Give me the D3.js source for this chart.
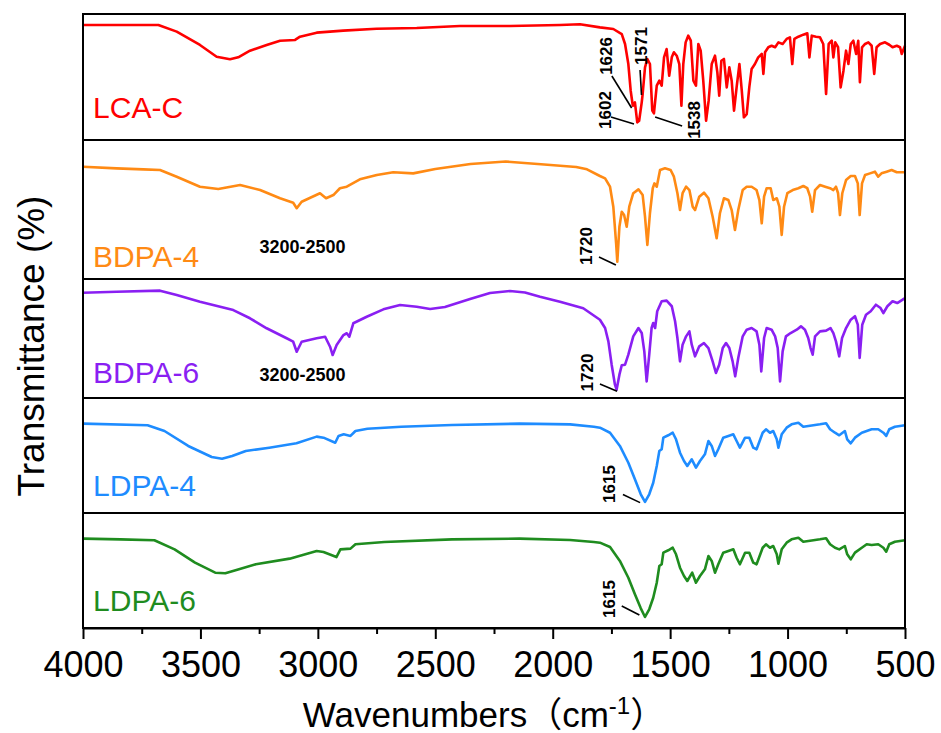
<!DOCTYPE html>
<html>
<head>
<meta charset="utf-8">
<script src="https://cdn.jsdelivr.net/npm/d3@7"></script>
<style>
body { margin: 0; background: #fff; }
</style>
</head>
<body>
<script>
// FTIR spectra, [wavenumber, transmittance (a.u., 0-100 inside each panel)]
var lcaC = [[4000,91.3],[3679,91.3],[3601,86.0],[3502,75.4],[3431,66.1],[3374,64.1],[3339,65.6],[3289,70.9],[3218,75.4],[3161,78.8],[3097,79.4],[3076,82.0],[3005,85.2],[2892,86.8],[2750,88.3],[2579,88.9],[2395,90.5],[2182,90.5],[1969,91.3],[1884,91.9],[1799,89.4],[1742,88.1],[1706,84.1],[1692,76.2],[1678,60.3],[1668,39.1],[1659,27.2],[1650,29.9],[1640,14.0],[1632,15.3],[1621,29.9],[1617,36.5],[1607,57.7],[1597,64.3],[1586,60.3],[1576,23.3],[1569,21.2],[1557,43.1],[1546,47.1],[1536,43.1],[1526,65.6],[1515,72.2],[1504,51.0],[1493,65.6],[1484,69.6],[1472,66.9],[1461,60.3],[1452,27.2],[1444,60.3],[1434,77.5],[1423,82.8],[1412,78.8],[1401,47.1],[1390,43.1],[1380,76.2],[1370,70.9],[1359,47.1],[1347,15.3],[1336,31.2],[1323,60.3],[1309,66.9],[1299,53.7],[1291,35.2],[1282,62.9],[1271,64.3],[1259,41.8],[1248,57.7],[1238,47.1],[1228,23.3],[1217,41.8],[1205,60.3],[1195,39.1],[1186,18.0],[1174,20.6],[1163,41.8],[1153,56.4],[1139,60.3],[1125,65.6],[1110,68.3],[1103,52.4],[1096,69.6],[1082,73.6],[1068,74.8],[1053,73.6],[1039,77.5],[1021,76.2],[1004,80.2],[990,81.5],[980,60.3],[971,80.2],[954,82.0],[933,83.6],[916,84.7],[907,65.6],[897,82.8],[879,82.0],[862,81.5],[848,76.2],[836,36.5],[825,76.2],[812,78.8],[805,65.6],[797,77.5],[785,73.6],[774,41.8],[762,55.0],[751,70.9],[741,60.3],[731,76.2],[720,78.8],[708,68.3],[699,78.8],[692,45.8],[683,73.6],[670,76.2],[656,77.5],[642,74.8],[631,52.4],[621,73.6],[606,76.2],[585,77.5],[567,75.6],[553,73.6],[535,74.8],[521,73.6],[514,68.3],[500,74.8]];

var bdpa4 = [[4000,80.8],[3857,79.6],[3743,78.9],[3672,78.4],[3601,73.6],[3502,66.4],[3424,64.7],[3331,67.6],[3246,64.0],[3161,58.1],[3105,54.9],[3090,50.9],[3069,55.6],[2991,61.7],[2965,58.1],[2934,60.4],[2906,65.3],[2877,66.4],[2821,71.7],[2749,74.8],[2679,76.8],[2594,76.0],[2500,79.1],[2350,82.7],[2200,84.5],[2050,82.5],[1900,80.6],[1854,78.9],[1799,74.1],[1777,72.4],[1756,66.4],[1742,52.0],[1730,25.7],[1725,12.4],[1716,37.6],[1706,48.4],[1696,46.0],[1685,37.6],[1674,52.0],[1657,61.7],[1635,64.5],[1617,60.4],[1607,44.8],[1597,24.5],[1586,47.3],[1574,65.3],[1567,68.8],[1557,66.4],[1543,78.4],[1522,79.6],[1498,78.4],[1484,73.6],[1469,61.7],[1458,49.6],[1447,61.7],[1432,66.4],[1418,64.0],[1404,52.0],[1394,49.6],[1376,59.2],[1356,62.1],[1337,58.1],[1319,44.8],[1302,29.3],[1288,47.3],[1271,58.1],[1252,56.8],[1238,49.6],[1224,35.3],[1210,49.6],[1191,64.0],[1174,66.4],[1153,66.4],[1132,64.0],[1120,56.8],[1110,40.1],[1100,59.2],[1089,65.3],[1072,65.3],[1061,56.8],[1046,58.1],[1035,52.0],[1025,31.7],[1015,52.0],[1001,61.7],[978,64.0],[954,65.3],[933,66.9],[916,65.3],[904,59.2],[895,48.4],[883,64.0],[862,67.6],[840,66.4],[819,65.3],[805,64.0],[794,66.4],[785,61.7],[777,46.0],[767,61.7],[751,71.2],[731,74.1],[713,74.1],[701,68.8],[693,46.0],[683,68.8],[670,74.8],[649,76.0],[628,77.2],[614,73.6],[600,76.0],[578,77.2],[557,78.4],[535,76.8],[500,76.8]];

var bdpa6 = [[4000,88.5],[3857,89.3],[3672,90.2],[3601,86.6],[3502,80.9],[3360,73.9],[3289,67.0],[3218,58.6],[3133,50.2],[3105,47.3],[3090,38.9],[3069,47.3],[3005,50.2],[2969,51.5],[2948,43.1],[2937,36.1],[2920,44.5],[2891,52.9],[2877,54.4],[2866,51.5],[2849,62.8],[2792,68.3],[2721,74.5],[2650,78.1],[2579,76.7],[2522,74.8],[2459,76.5],[2352,83.2],[2267,88.2],[2182,89.9],[2118,88.7],[2054,85.1],[1969,80.9],[1870,75.4],[1799,65.8],[1777,58.8],[1763,47.6],[1749,28.0],[1735,11.2],[1728,7.0],[1716,19.6],[1706,27.5],[1692,28.0],[1678,36.4],[1657,51.8],[1635,58.8],[1621,54.6],[1610,39.2],[1600,14.0],[1589,36.4],[1579,58.8],[1572,63.0],[1564,58.8],[1555,72.9],[1536,81.3],[1515,81.8],[1493,77.1],[1479,64.5],[1469,50.4],[1458,30.8],[1447,44.8],[1432,51.8],[1418,56.0],[1408,44.8],[1394,35.0],[1376,43.4],[1356,46.2],[1337,42.0],[1319,30.8],[1305,21.0],[1291,28.0],[1276,42.0],[1262,46.2],[1248,42.0],[1234,30.8],[1223,18.2],[1210,33.6],[1191,51.8],[1174,57.4],[1153,58.8],[1132,56.0],[1120,44.8],[1112,22.4],[1100,50.4],[1089,58.8],[1068,57.4],[1053,51.8],[1042,42.0],[1032,14.0],[1021,39.2],[1007,51.8],[987,54.6],[961,57.4],[943,60.2],[926,57.4],[912,50.4],[902,42.0],[893,36.4],[883,51.8],[862,56.0],[836,56.6],[817,58.8],[805,54.6],[794,47.6],[780,35.0],[768,50.4],[751,58.8],[731,65.8],[713,68.7],[701,61.6],[693,33.6],[682,61.6],[666,70.0],[646,72.9],[624,78.4],[604,75.6],[592,71.4],[575,77.1],[553,81.3],[533,79.8],[500,84.0]];

var ldpa4 = [[4000,77.7],[3725,76.3],[3653,71.3],[3552,58.3],[3452,48.7],[3408,47.2],[3365,49.6],[3307,53.9],[3207,56.8],[3091,60.6],[3005,66.4],[2976,65.5],[2926,61.1],[2912,67.0],[2890,68.4],[2861,67.0],[2840,71.3],[2789,73.3],[2645,75.0],[2429,76.5],[2141,77.7],[1926,77.1],[1825,75.0],[1799,74.2],[1756,69.8],[1714,58.3],[1678,43.7],[1650,29.3],[1625,16.3],[1607,9.6],[1589,16.3],[1572,26.3],[1557,40.9],[1546,53.9],[1536,55.4],[1529,65.5],[1508,67.6],[1489,69.8],[1475,64.1],[1458,52.4],[1441,45.2],[1427,40.9],[1408,46.7],[1390,39.4],[1373,45.2],[1352,51.0],[1337,62.6],[1323,58.3],[1309,49.6],[1295,55.4],[1274,65.5],[1252,67.0],[1231,68.4],[1217,62.6],[1203,56.8],[1181,65.5],[1163,65.5],[1146,56.8],[1132,55.4],[1106,69.8],[1092,72.8],[1075,69.8],[1061,71.3],[1046,64.1],[1039,56.8],[1025,68.4],[1004,74.2],[983,77.1],[954,78.5],[933,75.0],[890,76.3],[862,77.1],[836,78.0],[819,72.8],[798,69.8],[780,67.6],[756,71.3],[746,64.1],[731,60.6],[713,65.5],[684,69.8],[663,71.3],[642,72.8],[614,72.8],[592,69.8],[580,67.0],[567,72.8],[543,75.0],[500,76.3]];

var ldpa6 = [[4000,77.7],[3840,77.1],[3696,76.3],[3610,68.4],[3523,56.8],[3437,48.1],[3394,47.6],[3336,51.0],[3264,55.4],[3120,60.3],[3005,67.0],[2976,66.1],[2921,61.7],[2904,68.4],[2861,69.0],[2840,72.8],[2717,74.8],[2429,77.1],[2141,77.7],[1926,76.5],[1825,74.8],[1799,74.2],[1756,70.4],[1714,58.3],[1678,43.7],[1650,29.3],[1625,17.1],[1607,9.6],[1589,16.3],[1572,26.3],[1557,39.4],[1546,53.9],[1536,55.4],[1529,65.5],[1508,67.6],[1489,69.8],[1475,64.1],[1458,52.4],[1441,45.2],[1427,40.9],[1406,48.1],[1390,39.4],[1373,45.2],[1352,51.0],[1337,62.6],[1323,58.3],[1309,48.1],[1295,55.4],[1274,65.5],[1252,67.0],[1231,68.4],[1217,61.1],[1203,55.4],[1181,65.5],[1163,65.5],[1146,56.8],[1132,55.4],[1106,69.8],[1092,72.8],[1075,69.8],[1061,71.3],[1046,64.1],[1039,55.9],[1025,68.4],[1004,74.2],[983,77.1],[954,78.5],[933,75.0],[890,76.3],[862,77.1],[836,78.0],[819,72.8],[798,69.8],[780,68.4],[756,71.3],[746,64.1],[731,59.7],[713,65.5],[684,69.8],[663,72.8],[642,72.2],[614,72.8],[592,69.8],[580,66.4],[567,72.8],[543,75.0],[500,76.3]];

var names = ["LCA-C", "BDPA-4", "BDPA-6", "LDPA-4", "LDPA-6"];
var colors = ["#ff0000", "#ff8a14", "#8a1ff2", "#1e8cff", "#1f8c1f"];
var series = [lcaC, bdpa4, bdpa6, ldpa4, ldpa6];
var nameT = [17.5, 8.8, 12.4, 14.8, 14.8];

var xTicks = [4000, 3500, 3000, 2500, 2000, 1500, 1000, 500];
var xMinor = [3750, 3250, 2750, 2250, 1750, 1250, 750];

// peak labels: text position (wn, t) and pointer line, in panel data units
var peaks = [
  {panel: 0, text: "1602", wn: 1752, t: 23.8, line: [[1752, 18.3], [1654, 12.7]]},
  {panel: 0, text: "1626", wn: 1748, t: 66.7, line: [[1748, 50.8], [1664, 25.4]]},
  {panel: 0, text: "1571", wn: 1598, t: 74.6, line: [[1628, 55.6], [1622, 35.7]]},
  {panel: 0, text: "1538", wn: 1373, t: 15.9, line: [[1564, 18.3], [1449, 11.1]]},
  {panel: 1, text: "1720", wn: 1833, t: 23.7, line: [[1803, 15.8], [1731, 10.1]]},
  {panel: 2, text: "1720", wn: 1830, t: 21.4, line: [[1799, 11.8], [1726, 5.6]]},
  {panel: 3, text: "1615", wn: 1733, t: 25.2, line: [[1701, 16.1], [1628, 9.0]]},
  {panel: 4, text: "1615", wn: 1735, t: 25.2, line: [[1706, 19.1], [1631, 11.3]]}
];
var bandLabels = [
  {panel: 1, text: "3200-2500", wn: 3249, t: 18.9},
  {panel: 2, text: "3200-2500", wn: 3249, t: 14.5}
];

var width = 941, height = 733;
var left = 83, right = 905;
var tops = [14, 140, 279, 398, 513];
var bottoms = [140, 279, 398, 513, 628];
var font = "'Liberation Sans', Arial, 'Noto Sans CJK SC', sans-serif";

var svg = d3.select("body").append("svg")
  .attr("width", width)
  .attr("height", height)
  .style("font-family", font);

var x = d3.scaleLinear().domain([4000, 500]).range([left, right]);

var ys = tops.map(function (t, i) {
  return d3.scaleLinear().domain([0, 100]).range([bottoms[i], t]);
});

series.forEach(function (data, i) {
  var line = d3.line()
    .x(function (d) { return x(d[0]); })
    .y(function (d) { return ys[i](d[1]); });

  svg.append("path")
    .datum(data)
    .attr("fill", "none")
    .attr("stroke", colors[i])
    .attr("stroke-width", 2.6)
    .attr("stroke-linejoin", "round")
    .attr("d", line);

  svg.append("text")
    .attr("x", x(3957))
    .attr("y", ys[i](nameT[i]))
    .attr("font-size", "30px")
    .attr("fill", colors[i])
    .text(names[i]);
});

// peak annotations
peaks.forEach(function (p) {
  var y = ys[p.panel];
  svg.append("line")
    .attr("x1", x(p.line[0][0])).attr("y1", y(p.line[0][1]))
    .attr("x2", x(p.line[1][0])).attr("y2", y(p.line[1][1]))
    .attr("stroke", "#000")
    .attr("stroke-width", 1.6);
  svg.append("text")
    .attr("transform", "translate(" + x(p.wn) + "," + y(p.t) + ") rotate(-90)")
    .attr("text-anchor", "middle")
    .attr("font-size", "17px")
    .attr("font-weight", "bold")
    .text(p.text);
});

bandLabels.forEach(function (b) {
  svg.append("text")
    .attr("x", x(b.wn))
    .attr("y", ys[b.panel](b.t))
    .attr("font-size", "18px")
    .attr("font-weight", "bold")
    .text(b.text);
});

// frame + panel dividers
svg.append("rect")
  .attr("x", left).attr("y", tops[0])
  .attr("width", right - left).attr("height", bottoms[4] - tops[0])
  .attr("fill", "none")
  .attr("stroke", "#000")
  .attr("stroke-width", 2);

tops.slice(1).forEach(function (t) {
  svg.append("line")
    .attr("x1", left).attr("x2", right)
    .attr("y1", t).attr("y2", t)
    .attr("stroke", "#000")
    .attr("stroke-width", 2);
});

// x axis
var axisG = svg.append("g")
  .attr("transform", "translate(0," + bottoms[4] + ")")
  .call(d3.axisBottom(x).tickValues(xTicks).tickFormat(d3.format("d"))
    .tickSize(11).tickSizeOuter(0).tickPadding(12));

svg.append("g")
  .attr("transform", "translate(0," + bottoms[4] + ")")
  .call(d3.axisBottom(x).tickValues(xMinor).tickSize(6).tickSizeOuter(0).tickFormat(""))
  .select(".domain").remove();

svg.selectAll(".tick line").attr("stroke-width", 2);
axisG.select(".domain").attr("stroke-width", 2);
axisG.selectAll("text")
  .attr("font-size", "36px")
  .attr("font-family", font)
  .attr("fill", "#000");

// axis titles
var xt = svg.append("text")
  .attr("x", 484)
  .attr("y", 727)
  .attr("text-anchor", "middle")
  .attr("font-size", "35px");
xt.append("tspan").text("Wavenumbers（cm");
xt.append("tspan").attr("dy", -13).attr("font-size", "24px").text("-1");
xt.append("tspan").attr("dy", 13).text("）");

svg.append("text")
  .attr("transform", "translate(43.5,346) rotate(-90)")
  .attr("text-anchor", "middle")
  .attr("font-size", "37px")
  .text("Transmittance (%)");
</script>
</body>
</html>
